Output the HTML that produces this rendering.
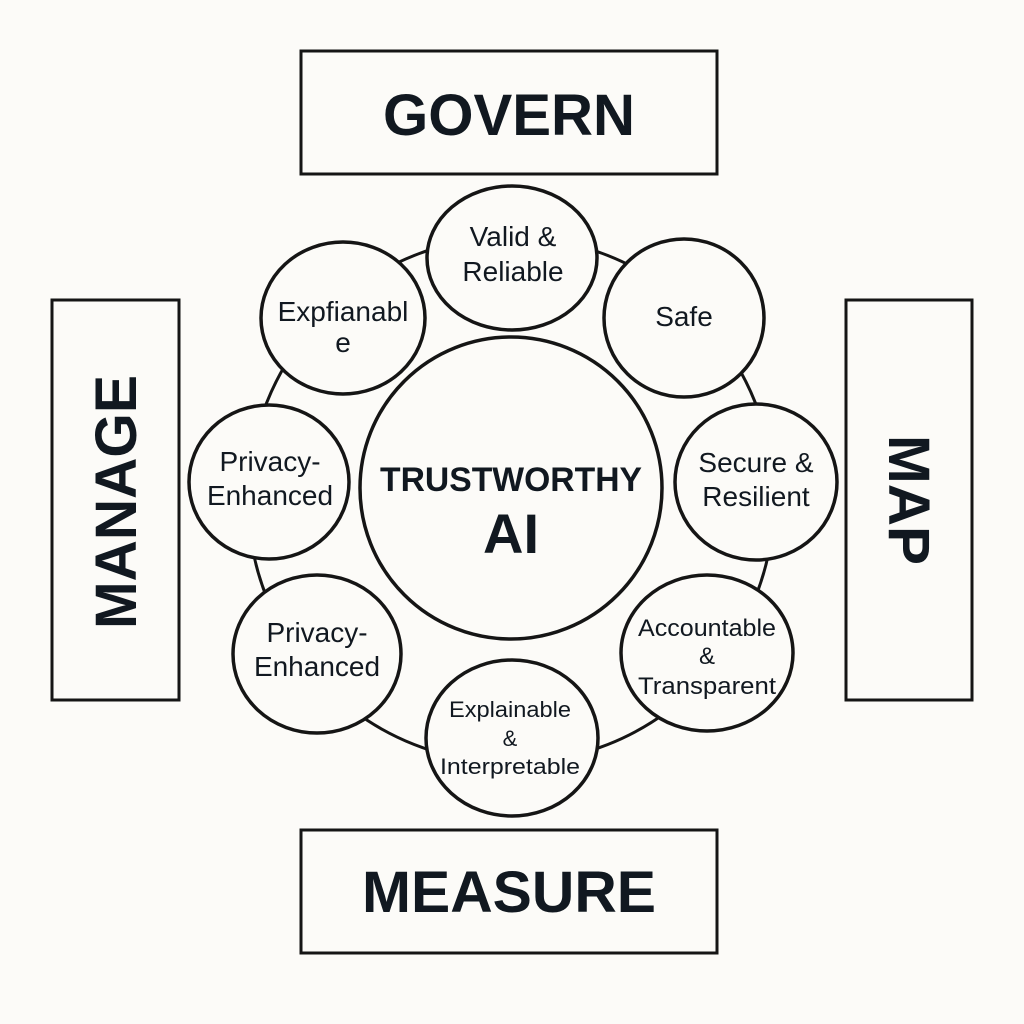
<!DOCTYPE html>
<html><head><meta charset="utf-8"><style>
html,body{margin:0;padding:0;background:#fcfbf8;}
svg{display:block}
text{font-family:"Liberation Sans",sans-serif;fill:#111820;text-anchor:middle}
</style></head><body>
<svg width="1024" height="1024" viewBox="0 0 1024 1024">
<rect width="1024" height="1024" fill="#fcfbf8"/>
<g fill="none" stroke="#151515" stroke-width="3">
<rect x="301" y="51" width="416" height="123"/>
<rect x="301" y="830" width="416" height="123"/>
<rect x="52" y="300" width="127" height="400"/>
<rect x="846" y="300" width="126" height="400"/>
<circle cx="511" cy="500" r="263"/>
</g>
<g fill="#fcfbf8" stroke="#151515" stroke-width="3.5">
<circle cx="511" cy="488" r="151"/>
<ellipse cx="512" cy="258" rx="85" ry="72"/>
<ellipse cx="684" cy="318" rx="80" ry="79"/>
<ellipse cx="756" cy="482" rx="81" ry="78"/>
<ellipse cx="707" cy="653" rx="86" ry="78"/>
<ellipse cx="512" cy="738" rx="86" ry="78"/>
<ellipse cx="317" cy="654" rx="84" ry="79"/>
<ellipse cx="269" cy="482" rx="80" ry="77"/>
<ellipse cx="343" cy="318" rx="82" ry="76"/>
</g>
<g font-weight="bold">
<text x="509" y="135" font-size="58" textLength="252" lengthAdjust="spacingAndGlyphs">GOVERN</text>
<text x="509" y="912" font-size="58" textLength="294" lengthAdjust="spacingAndGlyphs">MEASURE</text>
<text transform="translate(136,502) rotate(-90)" font-size="58" textLength="254" lengthAdjust="spacingAndGlyphs">MANAGE</text>
<text transform="translate(889,500) rotate(90)" font-size="58" textLength="130" lengthAdjust="spacingAndGlyphs">MAP</text>
<text x="511" y="491" font-size="34" textLength="262" lengthAdjust="spacingAndGlyphs">TRUSTWORTHY</text>
<text x="511" y="553" font-size="56">AI</text>
</g>
<g font-size="28">
<text x="513" y="246">Valid &amp;</text>
<text x="513" y="281">Reliable</text>
<text x="684" y="326">Safe</text>
<text x="756" y="472">Secure &amp;</text>
<text x="756" y="506">Resilient</text>
<text x="707" y="636" font-size="24" textLength="138" lengthAdjust="spacingAndGlyphs">Accountable</text>
<text x="707" y="664" font-size="24">&amp;</text>
<text x="707" y="694" font-size="24" textLength="138" lengthAdjust="spacingAndGlyphs">Transparent</text>
<text x="510" y="717" font-size="22" textLength="122" lengthAdjust="spacingAndGlyphs">Explainable</text>
<text x="510" y="746" font-size="22">&amp;</text>
<text x="510" y="774" font-size="22" textLength="140" lengthAdjust="spacingAndGlyphs">Interpretable</text>
<text x="317" y="642">Privacy-</text>
<text x="317" y="676">Enhanced</text>
<text x="270" y="471">Privacy-</text>
<text x="270" y="505">Enhanced</text>
<text x="343" y="321">Expfianabl</text>
<text x="343" y="352">e</text>
</g>
</svg>
</body></html>
